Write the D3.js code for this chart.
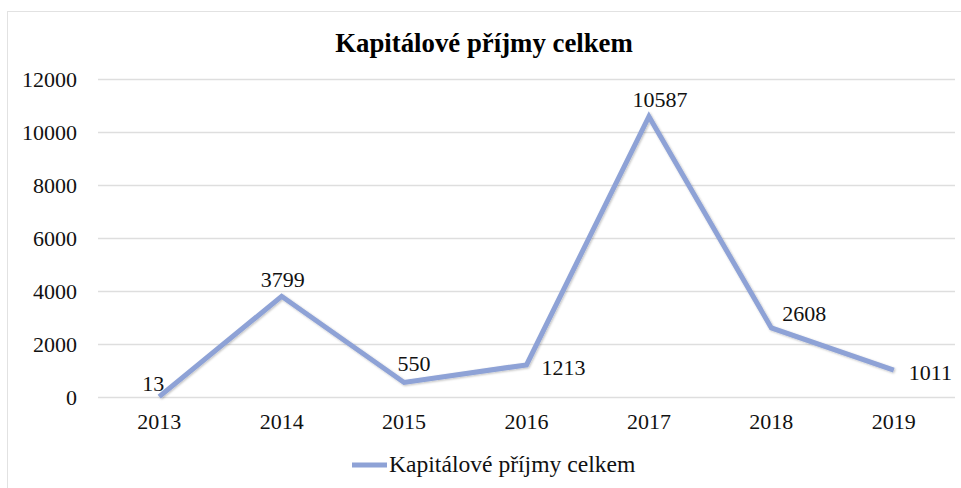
<!DOCTYPE html>
<html>
<head>
<meta charset="utf-8">
<script src="https://cdn.jsdelivr.net/npm/d3@7"></script>
<style>
  body { margin: 0; background: #fff; }
  svg { display: block; font-family: "Liberation Serif", "Times New Roman", serif; }
</style>
</head>
<body>
<svg id="chart"></svg>
<script>
let years = ['2013', '2014', '2015', '2016', '2017', '2018', '2019'];
let values = [13, 3799, 550, 1213, 10587, 2608, 1011];
let yTicks = [0, 2000, 4000, 6000, 8000, 10000, 12000];
let title = 'Kapitálové příjmy celkem';
let seriesName = 'Kapitálové příjmy celkem';

let width = 961;
let height = 488;
let plotLeft = 98, plotRight = 955, plotTop = 79, plotBottom = 397;
let lineColor = '#8ea2d6';
let serif = '"Liberation Serif", "Times New Roman", serif';

let svg = d3.select('#chart').attr('width', width).attr('height', height);

// chart frame
svg.append('rect')
    .attr('x', 7.5).attr('y', 11.5)
    .attr('width', width + 10).attr('height', height + 10)
    .attr('fill', 'none').attr('stroke', '#e2e2e2');

svg.append('text')
    .attr('x', 484).attr('y', 52)
    .attr('text-anchor', 'middle')
    .attr('font-size', 26.8).attr('font-weight', 'bold')
    .text(title);

let xScale = d3.scaleBand().domain(years).range([plotLeft, plotRight]);
let yScale = d3.scaleLinear().domain([0, 12000]).range([plotBottom, plotTop]);
let xc = d => xScale(d) + xScale.bandwidth() / 2;

// gridlines + y axis
let yAxis = d3.axisLeft(yScale)
    .tickValues(yTicks)
    .tickFormat(d3.format('d'))
    .tickSize(-(plotRight - plotLeft))
    .tickPadding(21);
let gy = svg.append('g').attr('transform', 'translate(' + plotLeft + ',0)').call(yAxis)
    .attr('font-family', serif).attr('font-size', 22);
gy.select('.domain').remove();
gy.selectAll('line').attr('stroke', '#dedede').attr('stroke-width', 1.5);
gy.selectAll('text').attr('fill', '#111');

// x axis
let xAxis = d3.axisBottom(xScale).tickSize(0).tickPadding(16);
let gx = svg.append('g').attr('transform', 'translate(0,' + plotBottom + ')').call(xAxis)
    .attr('font-family', serif).attr('font-size', 22);
gx.select('.domain').remove();
gx.selectAll('text').attr('fill', '#111');

// line with a soft shadow
let defs = svg.append('defs');
let f = defs.append('filter').attr('id', 'sh').attr('x', '-10%').attr('y', '-10%').attr('width', '120%').attr('height', '120%');
f.append('feDropShadow').attr('dx', 1).attr('dy', 1).attr('stdDeviation', 1.2).attr('flood-color', '#000').attr('flood-opacity', 0.25);

let line = d3.line().x((d, i) => xc(years[i])).y(d => yScale(d));
svg.append('path')
    .datum(values)
    .attr('d', line)
    .attr('fill', 'none')
    .attr('stroke', lineColor)
    .attr('stroke-width', 5)
    .attr('stroke-linejoin', 'miter')
    .attr('filter', 'url(#sh)');

// data labels
let placeLabel = (d, i) => {
    let x = xc(years[i]), y = yScale(d);
    if (i === 0) return { x: x + 5, y: y - 6, a: 'end' };
    if (i === 3 || i === 6) return { x: x + 15, y: y + 10, a: 'start' };
    if (i === 5) return { x: x + 11, y: y - 7, a: 'start' };
    if (i === 2) return { x: x + 10, y: y - 11, a: 'middle' };
    if (i === 4) return { x: x + 11, y: y - 9, a: 'middle' };
    return { x: x + 1, y: y - 9, a: 'middle' };
};
svg.selectAll('.lbl')
    .data(values)
    .enter()
    .append('text')
    .attr('class', 'lbl')
    .each(function (d, i) {
        let p = placeLabel(d, i);
        d3.select(this).attr('x', p.x).attr('y', p.y).attr('text-anchor', p.a);
    })
    .attr('font-size', 22)
    .attr('fill', '#111')
    .text(d => d);

// legend
svg.append('line')
    .attr('x1', 352).attr('x2', 387).attr('y1', 465).attr('y2', 465)
    .attr('stroke', lineColor).attr('stroke-width', 5);
svg.append('text')
    .attr('x', 389).attr('y', 472)
    .attr('font-size', 23.6).attr('fill', '#111')
    .text(seriesName);
</script>
</body>
</html>
